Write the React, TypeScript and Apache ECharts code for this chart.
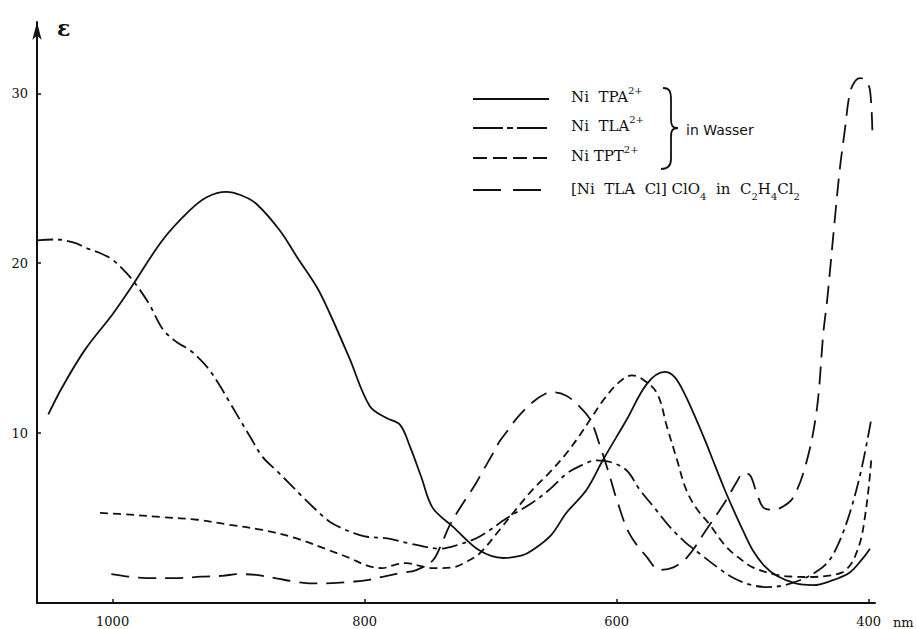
import React, { useEffect, useRef } from "react";
import * as echarts from "echarts";

// Axis ticks
const xTicks = [400, 600, 800, 1000];
const yTicks = [10, 20, 30];

// Series data: [wavelength nm, epsilon]
const niTPA: [number, number][] = [
  [1051, 11.1], [1040, 12.7], [1022, 14.9], [1000, 17.0], [986, 18.5], [960, 21.4],
  [939, 23.1], [925, 23.9], [910, 24.2], [898, 24.0], [886, 23.5], [867, 21.9],
  [854, 20.4], [838, 18.6], [828, 17.1], [812, 14.4], [796, 11.6], [783, 10.9],
  [772, 10.5], [764, 9.2], [755, 7.4], [746, 5.6], [730, 4.5], [709, 3.1],
  [690, 2.65], [675, 2.8], [667, 3.1], [652, 4.0], [640, 5.3], [624, 6.65],
  [611, 8.4], [592, 10.8], [576, 12.9], [562, 13.6], [554, 13.3], [546, 12.3],
  [538, 11.0], [530, 9.6], [522, 8.1], [515, 6.8], [508, 5.6], [500, 4.3],
  [492, 3.1], [483, 2.2], [473, 1.6], [458, 1.15], [444, 1.05], [430, 1.3],
  [415, 1.8], [405, 2.6], [399, 3.2],
];

const niTLA: [number, number][] = [
  [1060, 21.35], [1045, 21.4], [1030, 21.2], [1021, 20.9], [1010, 20.6], [1000, 20.2],
  [990, 19.5], [981, 18.7], [971, 17.6], [960, 16.1], [949, 15.35], [939, 14.9],
  [930, 14.3], [923, 13.7], [915, 12.8], [907, 11.8], [891, 9.8], [881, 8.6],
  [870, 7.8], [860, 7.06], [850, 6.3], [841, 5.65], [828, 4.8], [818, 4.4],
  [808, 4.1], [798, 3.9], [782, 3.8], [764, 3.5], [740, 3.2], [727, 3.4],
  [709, 3.9], [687, 5.0], [667, 5.9], [653, 6.7], [640, 7.6], [628, 8.1],
  [616, 8.4], [605, 8.3], [592, 7.8], [582, 6.7], [570, 5.6], [558, 4.5],
  [546, 3.6], [534, 2.9], [520, 2.1], [508, 1.5], [495, 1.1], [481, 0.94],
  [470, 1.0], [460, 1.2], [447, 1.6], [433, 2.35], [424, 3.5], [415, 5.3],
  [406, 7.8], [398, 10.8],
];

const niTPT: [number, number][] = [
  [1010, 5.3], [986, 5.2], [960, 5.05], [933, 4.9], [907, 4.6], [881, 4.3],
  [854, 3.8], [828, 3.1], [812, 2.65], [798, 2.2], [786, 2.05], [776, 2.25],
  [767, 2.35], [757, 2.2], [746, 2.05], [730, 2.1], [720, 2.4], [709, 2.9],
  [693, 4.3], [680, 5.5], [667, 6.65], [653, 7.7], [640, 8.8], [630, 9.8],
  [621, 10.8], [610, 12.0], [598, 13.0], [588, 13.4], [580, 13.2], [568, 12.35],
  [560, 10.35], [552, 8.4], [545, 6.7], [537, 5.6], [526, 4.6], [513, 3.3],
  [502, 2.6], [492, 2.1], [473, 1.65], [460, 1.55], [447, 1.53], [433, 1.6],
  [421, 1.8], [414, 2.3], [410, 2.9], [406, 3.8], [403, 5.06], [400, 6.8],
  [398, 8.4],
];

const niTLACl: [number, number][] = [
  [1001, 1.7], [987, 1.55], [973, 1.47], [947, 1.47], [930, 1.55], [913, 1.6],
  [900, 1.7], [886, 1.65], [870, 1.45], [854, 1.24], [838, 1.15], [822, 1.18],
  [810, 1.25], [798, 1.35], [785, 1.55], [772, 1.76], [759, 1.94], [746, 2.5],
  [740, 3.3], [733, 4.5], [726, 5.4], [719, 6.2], [712, 7.0], [706, 7.8],
  [699, 8.7], [693, 9.5], [686, 10.2], [679, 10.9], [667, 11.8], [657, 12.3],
  [650, 12.4], [640, 12.2], [630, 11.6], [621, 10.8], [613, 9.2], [606, 7.6],
  [600, 6.1], [590, 4.1], [576, 2.7], [566, 1.95], [555, 2.1], [544, 2.7],
  [529, 4.3], [513, 6.06], [505, 7.1], [499, 7.65], [494, 7.5], [489, 6.5],
  [484, 5.65], [478, 5.5], [470, 5.6], [460, 6.2], [449, 8.4], [441, 11.5],
  [436, 15.9], [433, 17.8], [427, 22.5], [423, 25.5], [419, 27.8], [415, 30.0],
  [411, 30.7], [407, 30.9], [403, 30.8], [399, 30.2], [397, 27.4],
];

const legendNames = ["Ni TPA", "Ni TLA", "Ni TPT"];

const SERIF = "DejaVu Serif";
const INK = "#111";

export default function App() {
  const ref = useRef<HTMLDivElement>(null);

  useEffect(() => {
    if (!ref.current) return;
    const braceD =
      "M663,88 C670,88 671,92 671,100 L671,119 C671,125 672,128 678,128 C672,128 671,131 671,137 L671,159 C671,166 668,169 661,169";
    echarts.graphic.registerShape("brace", echarts.graphic.extendPath(braceD, {}));

    const chart = echarts.init(ref.current, null, { renderer: "svg" });

    const rich = {
      n: { fontFamily: SERIF, fontSize: 15, color: INK, lineHeight: 24, verticalAlign: "middle" },
      sup: { fontFamily: SERIF, fontSize: 10, color: INK, lineHeight: 12, verticalAlign: "top" },
      sub: { fontFamily: SERIF, fontSize: 10, color: INK, lineHeight: 12, verticalAlign: "bottom" },
    };

    const legendLine = (y: number, dash: number[] | "solid") => ({
      type: "line",
      shape: { x1: 473, y1: y, x2: 549, y2: y },
      style: { stroke: INK, lineWidth: 2, lineDash: dash === "solid" ? null : dash },
      silent: true,
    });

    const legendText = (y: number, text: string) => ({
      type: "text",
      x: 571,
      y,
      style: { text, rich, fontFamily: SERIF, fontSize: 15, verticalAlign: "middle", align: "left", fill: INK },
      silent: true,
    });

    const lineSeries = (name: string, data: [number, number][], dash: number[] | "solid") => ({
      type: "line",
      name,
      data,
      smooth: 0.35,
      symbol: "none",
      lineStyle: { color: INK, width: 1.8, type: dash, cap: "butt" },
      silent: true,
    });

    chart.setOption({
      animation: false,
      backgroundColor: "#ffffff",
      grid: { left: 37, right: 41, top: 22, bottom: 26, containLabel: false, outerBoundsMode: "none" },
      xAxis: {
        type: "value",
        min: 395,
        max: 1060,
        inverse: true,
        axisLine: { show: true, onZero: false, lineStyle: { color: INK, width: 2 } },
        axisTick: { show: true, inside: true, length: 4, customValues: xTicks, lineStyle: { color: INK, width: 1.5 } },
        axisLabel: {
          customValues: xTicks,
          margin: 12,
          fontFamily: SERIF,
          fontSize: 13,
          color: INK,
          formatter: (v: number) => String(v),
        },
        splitLine: { show: false },
      },
      yAxis: {
        type: "value",
        min: 0,
        max: 34.2,
        axisLine: {
          show: true,
          onZero: false,
          symbol: ["none", "arrow"],
          symbolSize: [7, 18],
          lineStyle: { color: INK, width: 2 },
        },
        axisTick: { show: true, inside: true, length: 4, customValues: yTicks, lineStyle: { color: INK, width: 1.5 } },
        axisLabel: {
          customValues: yTicks,
          margin: 9,
          fontFamily: SERIF,
          fontSize: 13,
          color: INK,
          formatter: (v: number) => String(v),
        },
        splitLine: { show: false },
      },
      series: [
        lineSeries(legendNames[0], niTPA, "solid"),
        lineSeries(legendNames[1], niTLA, [16, 5, 4, 5]),
        lineSeries(legendNames[2], niTPT, [8, 5]),
        lineSeries("[Ni TLA Cl]ClO4", niTLACl, [18, 9]),
      ],
      graphic: [
        {
          type: "text",
          x: 57,
          y: 28,
          style: { text: "ε", font: `bold 22px ${SERIF}`, fill: INK, verticalAlign: "middle", align: "left" },
          silent: true,
        },
        {
          type: "text",
          x: 893,
          y: 622,
          style: { text: "nm", font: `13px ${SERIF}`, fill: INK, verticalAlign: "middle", align: "left" },
          silent: true,
        },
        legendLine(99, "solid"),
        legendLine(128, [30, 4, 6, 4]),
        legendLine(158, [14, 6]),
        legendLine(190, [28, 12]),
        legendText(97, "{n|Ni  TPA}{sup|2+}"),
        legendText(126, "{n|Ni  TLA}{sup|2+}"),
        legendText(156, "{n|Ni TPT}{sup|2+}"),
        legendText(189, "{n|[Ni  TLA  Cl] ClO}{sub|4}{n|  in  C}{sub|2}{n|H}{sub|4}{n|Cl}{sub|2}"),
        {
          type: "brace",
          x: 0,
          y: 0,
          style: { stroke: INK, fill: "none", lineWidth: 1.8 },
          silent: true,
        },
        {
          type: "text",
          x: 686,
          y: 130,
          style: { text: "in Wasser", font: `14px "DejaVu Sans"`, fill: INK, verticalAlign: "middle", align: "left" },
          silent: true,
        },
      ],
    });

    return () => {
      chart.dispose();
    };
  }, []);

  return (
    <div
      ref={ref}
      style={{ position: "absolute", left: 0, top: 0, width: 916, height: 629, background: "#fff" }}
    />
  );
}
